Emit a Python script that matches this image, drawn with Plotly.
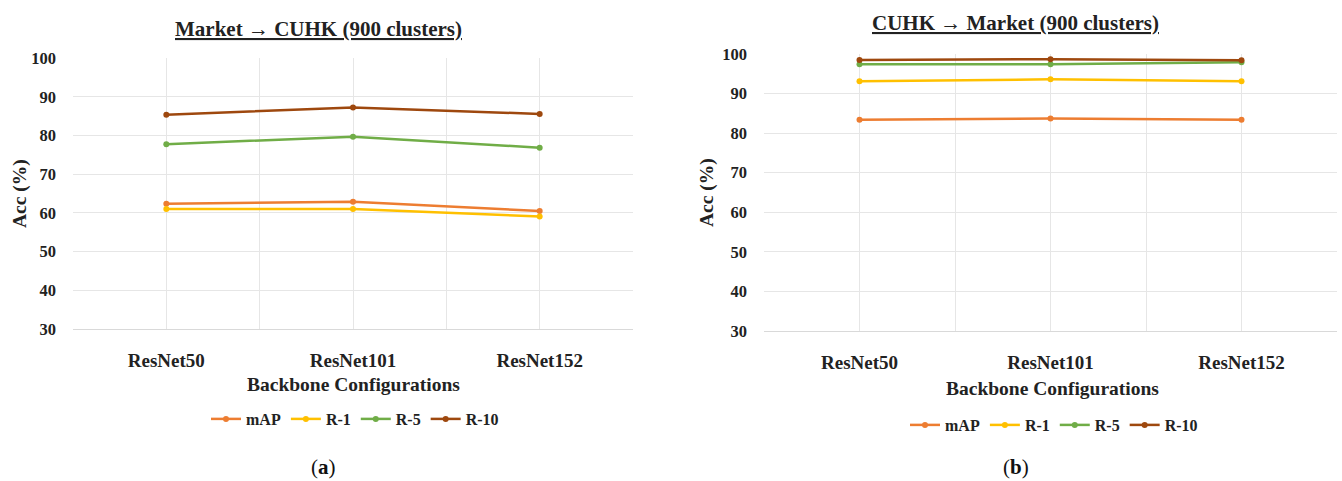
import plotly.graph_objects as go

# Backbone configurations on the x axis
backbones = ["ResNet50", "ResNet101", "ResNet152"]
metrics = ["mAP", "R-1", "R-5", "R-10"]

# Market -> CUHK accuracy (%)
mc_map = [62.4, 62.9, 60.5]
mc_r1 = [61.0, 61.0, 59.1]
mc_r5 = [77.8, 79.7, 76.9]
mc_r10 = [85.4, 87.3, 85.6]

# CUHK -> Market accuracy (%)
cm_map = [83.4, 83.7, 83.4]
cm_r1 = [93.1, 93.6, 93.1]
cm_r5 = [97.4, 97.4, 97.9]
cm_r10 = [98.5, 98.7, 98.4]

y_ticks = [30, 40, 50, 60, 70, 80, 90, 100]

colors = ["#ED7D31", "#FFC000", "#70AD47", "#9E480E"]

W, H = 1342, 481
FONT = "Liberation Serif"
GRID = "#E6E6E6"
INK = "#222222"


def px_x(p):
    return p / W


def px_y(p):
    return 1 - p / H


fig = go.Figure()
xs = list(range(len(backbones)))

panels = [
    ("x", "y", "legend", [mc_map, mc_r1, mc_r5, mc_r10]),
    ("x2", "y2", "legend2", [cm_map, cm_r1, cm_r5, cm_r10]),
]
for xa, ya, leg, series in panels:
    for name, vals, col in zip(metrics, series, colors):
        fig.add_trace(go.Scatter(
            x=xs, y=vals, name=name, mode="lines+markers",
            line=dict(color=col, width=2.5),
            marker=dict(color=col, size=6),
            xaxis=xa, yaxis=ya, legend=leg,
        ))

xaxis_common = dict(
    range=[-0.5, 2.5], tickmode="array", tickvals=xs, ticktext=backbones,
    showgrid=True, gridcolor=GRID, gridwidth=1, zeroline=False,
    showline=True, linecolor="#D9D9D9", linewidth=1,
    ticks="", ticklabelstandoff=14, automargin=False,
    tickfont=dict(family=FONT, size=19, color=INK, weight="bold"),
    minor=dict(tickvals=[-0.5, 0.5, 1.5, 2.5], showgrid=True,
               gridcolor=GRID, gridwidth=1, ticks=""),
    fixedrange=True,
)
yaxis_common = dict(
    range=[30, 100], tickmode="array", tickvals=y_ticks,
    showgrid=True, gridcolor=GRID, gridwidth=1, zeroline=False,
    ticks="", ticklabelstandoff=16, automargin=False,
    tickfont=dict(family=FONT, size=16.5, color=INK, weight="bold"),
    fixedrange=True,
)

legend_common = dict(
    orientation="h", xanchor="center", yanchor="middle",
    font=dict(family=FONT, size=16, color=INK, weight="bold"),
    bgcolor="rgba(0,0,0,0)", itemwidth=30, tracegroupgap=0,
)

fig.update_layout(
    width=W, height=H,
    margin=dict(l=0, r=0, t=0, b=0, autoexpand=False),
    paper_bgcolor="white", plot_bgcolor="white",
    xaxis=dict(domain=[px_x(73), px_x(633)], anchor="y", **xaxis_common),
    yaxis=dict(domain=[px_y(329), px_y(58.3)], anchor="x", **yaxis_common),
    xaxis2=dict(domain=[px_x(764), px_x(1337)], anchor="y2", **xaxis_common),
    yaxis2=dict(domain=[px_y(331), px_y(54)], anchor="x2", **yaxis_common),
    legend=dict(x=px_x(355), y=px_y(419), **legend_common),
    legend2=dict(x=px_x(1054), y=px_y(425), **legend_common),
    showlegend=True,
)

title_font = dict(family=FONT, size=21, color=INK)
label_font = dict(family=FONT, size=19.5, color=INK)
annotations = [
    # panel titles
    dict(text="<b><u>Market → CUHK (900 clusters)</u></b>", x=px_x(318), y=px_y(29),
         font=title_font),
    dict(text="<b><u>CUHK → Market (900 clusters)</u></b>", x=px_x(1015), y=px_y(23),
         font=title_font),
    # x-axis titles
    dict(text="<b>Backbone Configurations</b>", x=px_x(353), y=px_y(384), font=label_font),
    dict(text="<b>Backbone Configurations</b>", x=px_x(1052), y=px_y(388), font=label_font),
    # y-axis titles
    dict(text="<b>Acc (%)</b>", x=px_x(20), y=px_y(194), textangle=-90, font=label_font),
    dict(text="<b>Acc (%)</b>", x=px_x(707), y=px_y(193), textangle=-90, font=label_font),
    # panel captions
    dict(text="(<b>a</b>)", x=px_x(323), y=px_y(467),
         font=dict(family=FONT, size=21, color="#111111")),
    dict(text="(<b>b</b>)", x=px_x(1016), y=px_y(467),
         font=dict(family=FONT, size=21, color="#111111")),
]
for a in annotations:
    fig.add_annotation(xref="paper", yref="paper", showarrow=False,
                       xanchor="center", yanchor="middle", **a)

fig.write_html("out.html")
